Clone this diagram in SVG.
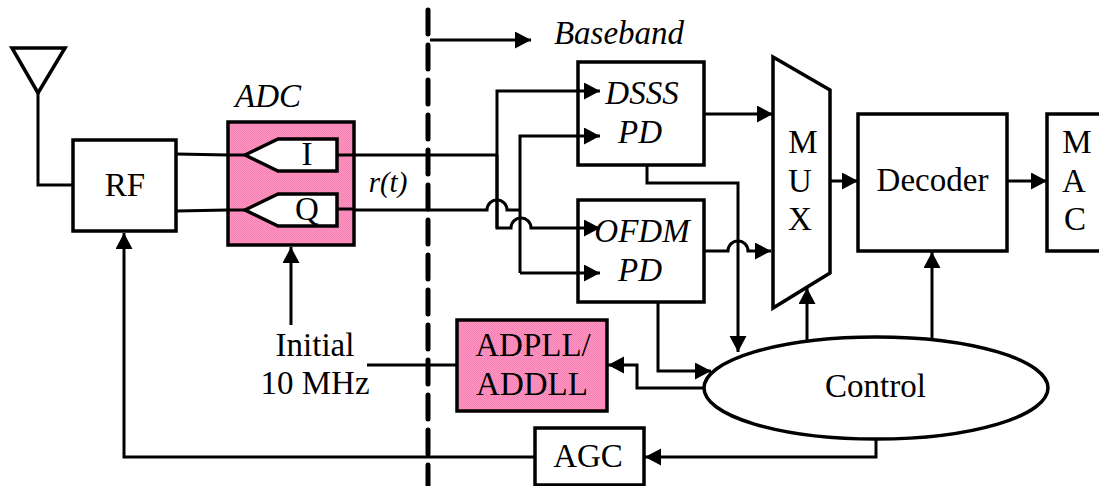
<svg xmlns="http://www.w3.org/2000/svg" width="1099" height="486" viewBox="0 0 1099 486">
<style>
.b{fill:#fff;stroke:#000;stroke-width:3.5}
.p{fill:url(#pk);stroke:#000;stroke-width:3.5}
.l{fill:none;stroke:#000;stroke-width:3;stroke-linejoin:miter}
.a{marker-end:url(#ah)}
text{font-family:"Liberation Serif","Times New Roman",serif;font-size:33px;fill:#000;text-anchor:middle}
.i{font-style:italic}
</style>
<defs>
<pattern id="pk" width="2" height="2" patternUnits="userSpaceOnUse">
<rect width="2" height="2" fill="#ff94c4"/>
<rect width="1" height="1" fill="#f583b2"/>
<rect x="1" y="1" width="1" height="1" fill="#f583b2"/>
</pattern>
<marker id="ah" markerUnits="userSpaceOnUse" markerWidth="18" markerHeight="18" refX="16" refY="8.5" orient="auto">
<path d="M0,0 L16,8.5 L0,17 Z" fill="#000"/>
</marker>
</defs>
<g id="antenna"><path class="l" style="stroke-width:3.5" d="M12,48H65L38,93Z"/></g>
<g id="rf"><rect class="b" x="73" y="140" width="103" height="91"/><text x="125" y="196">RF</text></g>
<g id="adc">
<rect class="p" x="228" y="122" width="126" height="123"/>
<path class="l" d="M228,155H245M228,210H245M337,155H354M337,209H354"/>
<path class="b" d="M245,155L278,139H337V171H278Z"/>
<path class="b" d="M245,210L278,194H337V226H278Z"/>
<text x="307" y="165">I</text><text x="307" y="220">Q</text>
</g>
<text class="i" x="268" y="107">ADC</text>
<text class="i" x="388" y="192" style="font-size:29px">r(t)</text>
<text class="i" x="619" y="44">Baseband</text>
<g id="dsss"><rect class="b" x="578" y="62" width="126" height="103"/><text class="i" x="642" y="104">DSSS</text><text class="i" x="640" y="143">PD</text></g>
<g id="ofdm"><rect class="b" x="578" y="200" width="126" height="102"/><text class="i" x="642" y="242">OFDM</text><text class="i" x="640" y="281">PD</text></g>
<g id="mux"><path class="b" d="M773,57L830,90V273L773,308Z"/><text x="803" y="153">M</text><text x="800" y="192">U</text><text x="800" y="230">X</text></g>
<g id="decoder"><rect class="b" x="858" y="114" width="149" height="137"/><text x="932.500" y="191">Decoder</text></g>
<g id="mac"><rect class="b" x="1047" y="114" width="60" height="137"/><text x="1077" y="153">M</text><text x="1074" y="192">A</text><text x="1075" y="230">C</text></g>
<g id="control"><ellipse class="b" cx="876" cy="388" rx="172" ry="51"/><text x="875.500" y="397">Control</text></g>
<g id="adpll"><rect class="p" x="457" y="320" width="150" height="91"/><text x="533" y="356">ADPLL/</text><text x="532" y="395">ADDLL</text></g>
<g id="agc"><rect class="b" x="535" y="428" width="109" height="57"/><text x="588" y="467">AGC</text></g>
<g id="clock"><text x="315" y="356">Initial</text><text x="315" y="394">10 MHz</text></g>
<g id="connectors">
<path class="l" d="M38,93V185H73"/>
<path class="l" d="M176,154L228,155"/>
<path class="l" d="M176,211L228,210"/>
<path class="l" d="M354,155H497"/>
<path class="l" d="M354,210H487a10,10 0 0 1 20,0H520"/>
<path class="l a" d="M497,228V91H600"/>
<path class="l a" d="M497,155V228H511a10,10 0 0 1 20,0H600"/>
<path class="l a" d="M520,273V136H600"/>
<path class="l a" d="M520,273H600"/>
<path class="l a" d="M430,40H531"/>
<path class="l a" d="M704,114H773"/>
<path class="l a" d="M647,165V183H738V352"/>
<path class="l a" d="M704,251H728a10,10 0 0 1 20,0H771"/>
<path class="l a" d="M658,302V371H711"/>
<path class="l a" d="M704,388H637V365H608"/>
<path class="l" d="M367,365H457"/>
<path class="l a" d="M291,325V247"/>
<path class="l a" d="M535,457H124V233"/>
<path class="l a" d="M876,439V457H645"/>
<path class="l a" d="M830,181H858"/>
<path class="l a" d="M1007,181H1047"/>
<path class="l a" d="M807,340V288"/>
<path class="l a" d="M932,338V252"/>
<path d="M428,10V486" fill="none" stroke="#000" stroke-width="5" stroke-dasharray="24 11" stroke-linecap="round"/>
</g>
</svg>
